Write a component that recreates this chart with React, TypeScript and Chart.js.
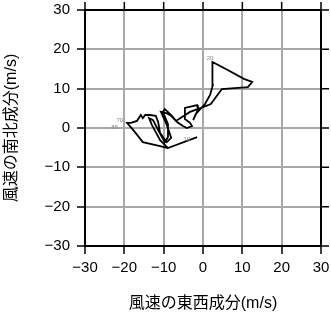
import React, { useEffect, useRef } from "react";
import { Chart, registerables } from "chart.js";

Chart.register(...registerables);

// Hodograph: east-west (u) and north-south (v) wind components, m/s
const uWind = [
  -1.5, -8.9, -10.9, -13.0, -13.7, -12.7, -11.4, -9.7, -8.9, -8.9, -10.2, -9.7,
  -7.9, -6.6, -5.1, -4.1, -2.8, -3.3, -4.6, -4.6, -1.5, -1.3, -2.5, -1.8,
  0.5, 1.8, 2.5, 2.5, 2.3, 6.4, 10.4, 12.5, 11.4, 8.9, 4.8, 3.3,
  2.0, -0.5, -3.3, -5.8, -6.9, -8.1, -9.4, -10.7, -9.2, -8.1, -9.2, -10.9,
  -11.4, -12.0, -13.5, -14.7, -15.3, -15.8, -16.8, -18.3, -19.3, -17.5, -15.3, -10.9,
  -8.9,
];
const vWind = [
  -2.3, -5.1, -3.1, 0.8, 2.5, 2.0, -0.5, -3.6, -2.3, 1.0, 4.1, 4.8,
  3.1, 1.5, 0.5, 0.0, 0.5, 1.3, 2.3, 5.1, 5.8, 4.6, 2.0, 3.6,
  6.1, 8.4, 10.9, 14.2, 16.8, 14.7, 12.5, 11.7, 10.4, 10.2, 9.9, 7.9,
  6.1, 5.1, 4.1, 2.5, 1.8, 3.1, 3.8, 4.1, 0.8, -2.5, -3.6, -1.3,
  1.5, 3.1, 3.3, 3.3, 2.5, 3.3, 1.8, 1.3, 1.3, -0.8, -3.6, -4.6,
  -5.1,
];

const axisTicks = [-30, -20, -10, 0, 10, 20, 30];

const levelLabels = ["10", "20", "70", "85"];
const levelU = [-4.1, 1.8, -20.3, -21.6];
const levelV = [-2.8, 17.8, 2.0, 0.25];

const FONT = "'Liberation Sans', 'Noto Sans CJK JP', sans-serif";

const fmt = (v: number) => (v < 0 ? "\u2212" + Math.abs(v) : String(v));

const framePlugin = {
  id: "frame",
  afterDraw(chart: any) {
    const { ctx, chartArea } = chart;
    const xs = chart.scales.x;
    const ys = chart.scales.y;
    const { left, right, top, bottom } = chartArea;
    ctx.save();
    ctx.strokeStyle = "#000";
    ctx.lineWidth = 1.5;
    ctx.beginPath();
    for (const t of axisTicks) {
      const x = xs.getPixelForValue(t);
      ctx.moveTo(x, top);
      ctx.lineTo(x, top - 8);
      const y = ys.getPixelForValue(t);
      ctx.moveTo(right, y);
      ctx.lineTo(right + 8, y);
    }
    ctx.stroke();
    ctx.lineWidth = 2;
    ctx.beginPath();
    ctx.moveTo(left - 1, top);
    ctx.lineTo(right, top);
    ctx.lineTo(right, bottom + 1);
    ctx.stroke();
    // level labels
    ctx.fillStyle = "#888";
    ctx.font = "6px " + FONT;
    ctx.textBaseline = "middle";
    levelLabels.forEach((txt, i) => {
      const x = xs.getPixelForValue(levelU[i]);
      const y = ys.getPixelForValue(levelV[i]);
      ctx.textAlign = i >= 2 ? "right" : "center";
      ctx.fillText(txt, x, y);
    });
    ctx.restore();
  },
};

export default function App() {
  const ref = useRef<HTMLCanvasElement>(null);
  useEffect(() => {
    if (!ref.current) return;
    const chart = new Chart(ref.current, {
      type: "scatter",
      data: {
        datasets: [
          {
            data: uWind.map((u, i) => ({ x: u, y: vWind[i] })),
            showLine: true,
            borderColor: "#000",
            borderWidth: 1.8,
            pointRadius: 0,
            fill: false,
            tension: 0,
          },
        ],
      },
      options: {
        responsive: false,
        animation: false,
        devicePixelRatio: 1,
        layout: { padding: { top: 10, right: 10, left: 0, bottom: 0 } },
        plugins: { legend: { display: false }, tooltip: { enabled: false } },
        scales: {
          x: {
            type: "linear",
            min: -30,
            max: 30,
            ticks: {
              stepSize: 10,
              color: "#000",
              font: { family: FONT, size: 15 },
              padding: 5,
              maxRotation: 0,
              callback: (v: any) => fmt(Number(v)),
            },
            grid: { color: "#a8a8a8", lineWidth: 2, tickColor: "#000", tickLength: 8, tickWidth: 1.5 },
            border: { color: "#000", width: 2 },
            title: {
              display: true,
              text: "風速の東西成分(m/s)",
              color: "#000",
              font: { family: FONT, size: 16 },
              padding: { top: 0, bottom: 5 },
            },
            afterFit: (s: any) => {
              s.height = 72;
              s.paddingLeft = 0;
              s.paddingRight = 0;
              s.paddingTop = 0;
              s.paddingBottom = 0;
            },
          },
          y: {
            type: "linear",
            min: -30,
            max: 30,
            ticks: {
              stepSize: 10,
              color: "#000",
              font: { family: FONT, size: 15 },
              padding: 7,
              callback: (v: any) => fmt(Number(v)),
            },
            grid: { color: "#a8a8a8", lineWidth: 2, tickColor: "#000", tickLength: 8, tickWidth: 1.5 },
            border: { color: "#000", width: 2 },
            title: {
              display: true,
              text: "風速の南北成分(m/s)",
              color: "#000",
              font: { family: FONT, size: 16 },
              padding: { top: 2, bottom: 0 },
            },
            afterFit: (s: any) => {
              s.width = 85;
              s.paddingLeft = 0;
              s.paddingRight = 0;
              s.paddingTop = 0;
              s.paddingBottom = 0;
            },
          },
        },
      },
      plugins: [framePlugin],
    } as any);
    return () => chart.destroy();
  }, []);
  return (
    <div style={{ position: "absolute", left: 0, top: 0, width: 331, height: 318, background: "#fff" }}>
      <canvas ref={ref} width={331} height={318} style={{ display: "block" }} />
    </div>
  );
}
